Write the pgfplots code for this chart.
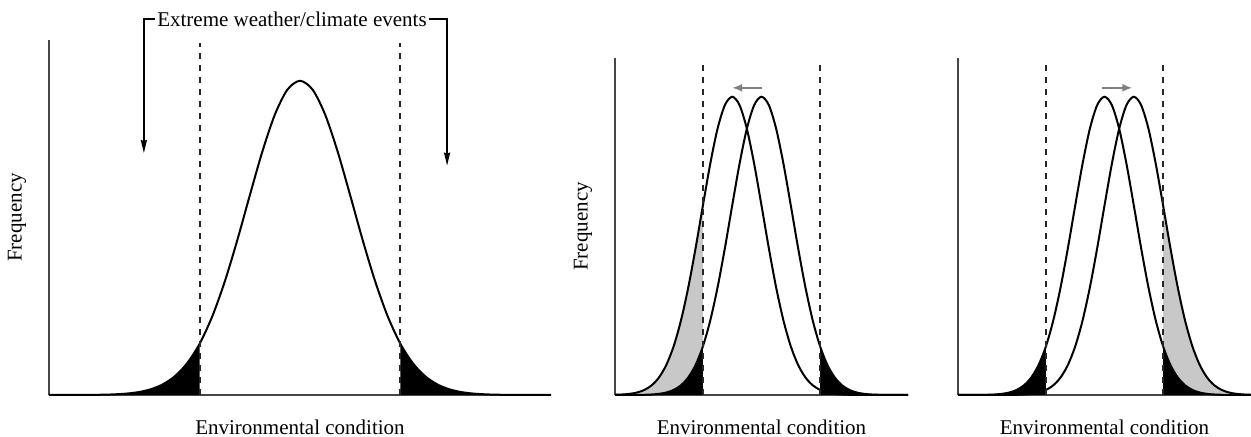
\documentclass[border=0pt]{standalone}
\usepackage{pgfplots}
\usepackage{pgfplotstable}
\usepackage{fontspec}
\setmainfont{Liberation Serif}
\pgfplotsset{compat=1.18}
\usetikzlibrary{arrows.meta}

\definecolor{shade}{RGB}{200,200,200}
\definecolor{axgray}{RGB}{70,70,70}

% bell curves (sigma = 1.05) centred at 5, 4 and 6
\pgfplotstableread{
x     y5      y4      y6
0.00  0.00001 0.00071 0.00000
0.25  0.00004 0.00170 0.00000
0.50  0.00010 0.00386 0.00000
0.75  0.00028 0.00831 0.00000
1.00  0.00071 0.01688 0.00001
1.25  0.00170 0.03239 0.00004
1.50  0.00386 0.05874 0.00010
1.75  0.00831 0.10067 0.00028
2.00  0.01688 0.16299 0.00071
2.25  0.03239 0.24935 0.00170
2.50  0.05874 0.36044 0.00386
2.75  0.10067 0.49232 0.00831
3.00  0.16299 0.63543 0.01688
3.25  0.24935 0.77482 0.03239
3.50  0.36044 0.89281 0.05874
3.75  0.49232 0.97206 0.10067
4.00  0.63543 1.00000 0.16299
4.25  0.77482 0.97206 0.24935
4.50  0.89281 0.89281 0.36044
4.75  0.97206 0.77482 0.49232
5.00  1.00000 0.63543 0.63543
5.25  0.97206 0.49232 0.77482
5.50  0.89281 0.36044 0.89281
5.75  0.77482 0.24935 0.97206
6.00  0.63543 0.16299 1.00000
6.25  0.49232 0.10067 0.97206
6.50  0.36044 0.05874 0.89281
6.75  0.24935 0.03239 0.77482
7.00  0.16299 0.01688 0.63543
7.25  0.10067 0.00831 0.49232
7.50  0.05874 0.00386 0.36044
7.75  0.03239 0.00170 0.24935
8.00  0.01688 0.00071 0.16299
8.25  0.00831 0.00028 0.10067
8.50  0.00386 0.00010 0.05874
8.75  0.00170 0.00004 0.03239
9.00  0.00071 0.00001 0.01688
9.25  0.00028 0.00000 0.00831
9.50  0.00010 0.00000 0.00386
9.75  0.00004 0.00000 0.00170
10.00 0.00001 0.00000 0.00071
}\bell

\pgfplotsset{
  panel/.style={
    scale only axis, anchor=south west,
    axis lines=left, axis line style={-, axgray, line width=0.9pt},
    xtick=\empty, ytick=\empty,
    xmin=0, xmax=10, ymin=0, ymax=1.13,
    clip=false,
  },
  curve/.style={black, line width=1pt, smooth},
  tail/.style={draw=none, fill=black, smooth},
  gtail/.style={draw=none, fill=shade, smooth},
  limit/.style={black!85, line width=1pt, dash pattern=on 3.2pt off 2.8pt},
}

\begin{document}
\begin{tikzpicture}[font=\fontsize{10.5}{12.6}\selectfont]
\path[use as bounding box] (0,0) rectangle (625.5pt,218.5pt);

% ---- left: present distribution
\begin{axis}[panel, at={(24.5pt,21pt)}, width=251pt, height=177.5pt]
\addplot[tail, restrict x to domain=0:3] table[x=x, y=y5] {\bell} \closedcycle;
\addplot[tail, restrict x to domain=7:10] table[x=x, y=y5] {\bell} \closedcycle;
\addplot[curve] table[x=x, y=y5] {\bell};
\addplot[limit] coordinates {(3,0) (3,1.12)};
\addplot[limit] coordinates {(7,0) (7,1.12)};
\node[inner sep=1pt] (ev) at (axis cs:4.84,1.197) {Extreme weather/climate events};
\draw[line width=0.9pt, -{Stealth[length=6.5pt, width=3pt, inset=0.5pt]}]
  (ev.west) -- (axis cs:1.89,1.197) -- (axis cs:1.89,0.77);
\draw[line width=0.9pt, -{Stealth[length=6.5pt, width=3pt, inset=0.5pt]}]
  (ev.east) -- (axis cs:7.93,1.197) -- (axis cs:7.93,0.73);
\node[rotate=90] at ([xshift=-16pt]rel axis cs:0,0.5) {Frequency};
\node at ([yshift=-16pt]rel axis cs:0.5,0) {Environmental condition};
\end{axis}

% ---- middle: shift to the left
\begin{axis}[panel, at={(307.5pt,21pt)}, width=146.5pt, height=168.5pt]
\addplot[gtail, restrict x to domain=0:3] table[x=x, y=y4] {\bell} \closedcycle;
\addplot[tail, restrict x to domain=0:3] table[x=x, y=y5] {\bell} \closedcycle;
\addplot[tail, restrict x to domain=7:10] table[x=x, y=y5] {\bell} \closedcycle;
\addplot[curve] table[x=x, y=y4] {\bell};
\addplot[curve] table[x=x, y=y5] {\bell};
\addplot[limit] coordinates {(3,0) (3,1.115)};
\addplot[limit] coordinates {(7,0) (7,1.115)};
\draw[gray, line width=0.9pt, -{Latex[length=5pt, width=4pt]}]
  (axis cs:5.0,1.03) -- (axis cs:4.0,1.03);
\node[rotate=90] at ([xshift=-16pt]rel axis cs:0,0.5) {Frequency};
\node at ([yshift=-16pt]rel axis cs:0.5,0) {Environmental condition};
\end{axis}

% ---- right: shift to the right
\begin{axis}[panel, at={(479pt,21pt)}, width=146.5pt, height=168.5pt]
\addplot[gtail, restrict x to domain=7:10] table[x=x, y=y6] {\bell} \closedcycle;
\addplot[tail, restrict x to domain=0:3] table[x=x, y=y5] {\bell} \closedcycle;
\addplot[tail, restrict x to domain=7:10] table[x=x, y=y5] {\bell} \closedcycle;
\addplot[curve] table[x=x, y=y5] {\bell};
\addplot[curve] table[x=x, y=y6] {\bell};
\addplot[limit] coordinates {(3,0) (3,1.115)};
\addplot[limit] coordinates {(7,0) (7,1.115)};
\draw[gray, line width=0.9pt, -{Latex[length=5pt, width=4pt]}]
  (axis cs:4.9,1.03) -- (axis cs:5.95,1.03);
\node at ([yshift=-16pt]rel axis cs:0.5,0) {Environmental condition};
\end{axis}
\end{tikzpicture}
\end{document}
